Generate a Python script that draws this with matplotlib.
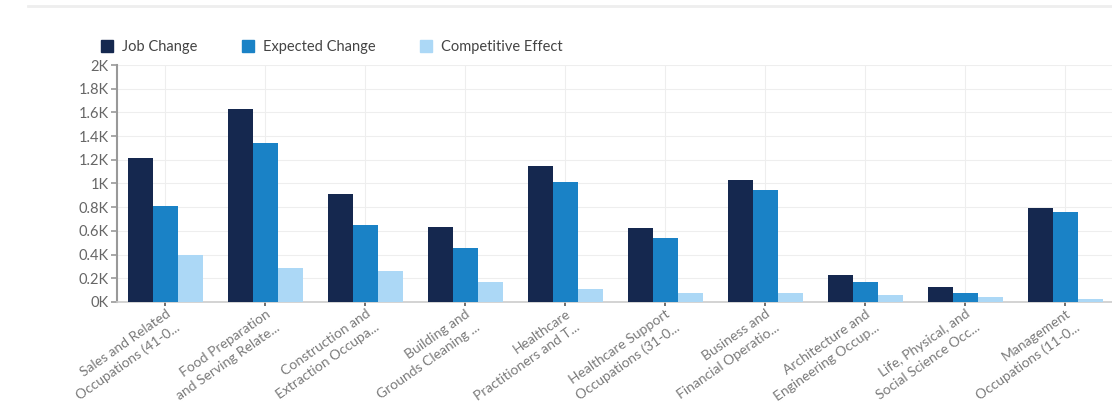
import numpy as np
import matplotlib.pyplot as plt
from matplotlib.lines import Line2D
from matplotlib.transforms import ScaledTranslation

# Dados
categories = [
    "Sales and Related\nOccupations (41-0...",
    "Food Preparation\nand Serving Relate...",
    "Construction and\nExtraction Occupa...",
    "Building and\nGrounds Cleaning ...",
    "Healthcare\nPractitioners and T...",
    "Healthcare Support\nOccupations (31-0...",
    "Business and\nFinancial Operatio...",
    "Architecture and\nEngineering Occup...",
    "Life, Physical, and\nSocial Science Occ...",
    "Management\nOccupations (11-0...",
]
job_change = [1213, 1629, 911, 636, 1148, 622, 1030, 228, 124, 796]
expected_change = [813, 1344, 650, 458, 1015, 543, 945, 166, 73, 762]
competitive_effect = [400, 285, 262, 170, 107, 75, 80, 55, 40, 25]

series_names = ["Job Change", "Expected Change", "Competitive Effect"]
colors = ["#15284f", "#1a82c6", "#acd8f6"]

y_ticks = [0, 200, 400, 600, 800, 1000, 1200, 1400, 1600, 1800, 2000]
y_labels = ["0K", "0.2K", "0.4K", "0.6K", "0.8K", "1K", "1.2K", "1.4K", "1.6K", "1.8K", "2K"]

plt.rcParams["font.family"] = ["Lato", "DejaVu Sans"]

fig = plt.figure(figsize=(11.12, 4.13), dpi=100)
ax = fig.add_axes([0.1052, 0.2688, 0.8978, 0.5738])

x = np.arange(len(categories))
width = 0.25
for i, (vals, name, c) in enumerate(zip([job_change, expected_change, competitive_effect],
                                        series_names, colors)):
    ax.bar(x + (i - 1) * width, vals, width, color=c, label=name, zorder=3)

ax.set_xlim(-0.485, 9.5)
ax.set_ylim(0, 2000)
ax.set_yticks(y_ticks)
ax.set_yticklabels(y_labels, fontsize=10.5, color="#666666")
ax.set_xticks(x)
ax.set_xticklabels(categories, rotation=35, ha="right", va="top",
                   rotation_mode="anchor", fontsize=10, color="#7a7a7a",
                   multialignment="right", linespacing=1.45)
# desloca os rotulos para a esquerda, como na figura original
offset = ScaledTranslation(-0.20, 0.0, fig.dpi_scale_trans)
for lbl in ax.get_xticklabels():
    lbl.set_transform(lbl.get_transform() + offset)

ax.grid(True, color="#eeeeee", linewidth=0.8, zorder=0)
for s in ["top", "right"]:
    ax.spines[s].set_visible(False)
ax.spines["left"].set_color("#999999")
ax.spines["left"].set_linewidth(1.5)
ax.spines["bottom"].set_color("#cccccc")
ax.spines["bottom"].set_linewidth(1.2)
ax.tick_params(axis="y", length=4, width=1.2, color="#999999", pad=2)
ax.tick_params(axis="x", length=3, width=1.2, color="#555555", pad=1)

handles = [Line2D([0], [0], marker="s", linestyle="", markersize=8,
                  markerfacecolor=c, markeredgecolor=c) for c in colors]
fig.legend(handles, series_names, loc="center left", bbox_to_anchor=(0.078, 0.886),
           ncol=3, frameon=False, fontsize=10.5, handletextpad=0.5,
           columnspacing=3.0, labelcolor="#444444", handlelength=1.0)

# linha separadora no topo
fig.add_artist(Line2D([0.025, 1.0], [0.985, 0.985], color="#eeeeee", linewidth=2,
                      transform=fig.transFigure))

fig.savefig("out.png", dpi=100)
